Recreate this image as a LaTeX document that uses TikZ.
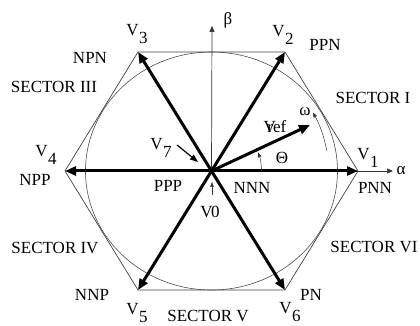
\documentclass[tikz,border=0pt]{standalone}
\usepackage{fontspec}
\setmainfont{Liberation Serif}
\usetikzlibrary{arrows.meta}
\newcommand{\Vsub}[1]{V\kern0.02em\raisebox{-0.42em}{#1}}
\begin{document}
\begin{tikzpicture}[x=1pt,y=1pt,
  font=\fontsize{17}{20}\selectfont,
  lbl/.style={inner sep=0pt},
  thin line/.style={line width=0.7pt, draw=black!75},
  vec/.style={line width=3pt, -{Triangle[length=11pt,width=9pt]}},
  ax/.style={line width=0.7pt, draw=black!80, -{Triangle[length=6pt,width=5pt]}},
  small/.style={line width=0.5pt, draw=black!80, -{Triangle[length=5pt,width=3.5pt]}},
  pointer/.style={line width=1.2pt, -{Triangle[length=8pt,width=6pt]}}]
\useasboundingbox (0,0) rectangle (420,326);
% geometry
\coordinate (O) at (211.5,155);
\coordinate (p1) at (358,155);
\coordinate (p2) at (285,274);
\coordinate (p3) at (138,274);
\coordinate (p4) at (65,155);
\coordinate (p5) at (138,36);
\coordinate (p6) at (285,36);
\coordinate (aend) at (393,155);
\coordinate (bend) at (212,300);
\coordinate (vref) at (310,201);
% hexagon and circle
\draw[thin line] (p1) -- (p2) -- (p3) -- (p4) -- (p5) -- (p6) -- cycle;
\draw[line width=0.6pt, draw=black!70] (O) ellipse [x radius=126, y radius=119];
% axes
\draw[ax] (O) -- (aend);
\draw[ax] (O) -- (bend);
% vectors
\foreach \p in {p1,p2,p3,p4,p5,p6}{\draw[vec] (O) -- (\p);}
\draw[vec] (O) -- (vref);
% angle arcs
\draw[small] ([shift={(0:50)}]O) arc[start angle=0, end angle=22, radius=50];
\draw[small] ([shift={(10:117)}]O) arc[start angle=10, end angle=30, radius=117];
% labels
\node[lbl] (l1) at (368,168) {\Vsub{1}};
\node[lbl] (l2) at (283,291) {\Vsub{2}};
\node[lbl] (l3) at (137,292) {\Vsub{3}};
\node[lbl] (l4) at (46,171) {\Vsub{4}};
\node[lbl] (l5) at (137,13) {\Vsub{5}};
\node[lbl] (l6) at (290,14) {\Vsub{6}};
\node[lbl] (l7) at (161,178) {\Vsub{7}};
\node[lbl] (l0) at (210,114) {V\kern-0.1em 0};
\node[lbl] (lref) at (275,199) {V\kern-0.5em ref};
\node[lbl] (lom) at (305,214) {ω};
\node[lbl] (lth) at (282,168) {Θ};
\node[lbl] (lal) at (401,155) {α};
\node[lbl] (lbe) at (228,306) {β};
\node[lbl] (npn) at (90,268) {NPN};
\node[lbl] (ppn) at (325,281) {PPN};
\node[lbl] (npp) at (35,146) {NPP};
\node[lbl] (ppp) at (168,140) {PPP};
\node[lbl] (nnn) at (252,138) {NNN};
\node[lbl] (pnn) at (375,138) {PNN};
\node[lbl] (nnp) at (92,31) {NNP};
\node[lbl] (pn) at (311,31) {PN};
\node[lbl] (s1) at (373,228) {SECTOR I};
\node[lbl] (s3) at (54,239) {SECTOR III};
\node[lbl] (s4) at (55,78) {SECTOR IV};
\node[lbl] (s5) at (208,10) {SECTOR V};
\node[lbl] (s6) at (374,79) {SECTOR VI};
% pointer arrows
\coordinate (v7s) at (177,181);
\coordinate (v7e) at (198,164);
\draw[pointer] (v7s) -- (v7e);
\coordinate (v0s) at (212,131);
\coordinate (v0e) at (212,144);
\draw[small] (v0s) -- (v0e);
\end{tikzpicture}
\end{document}
